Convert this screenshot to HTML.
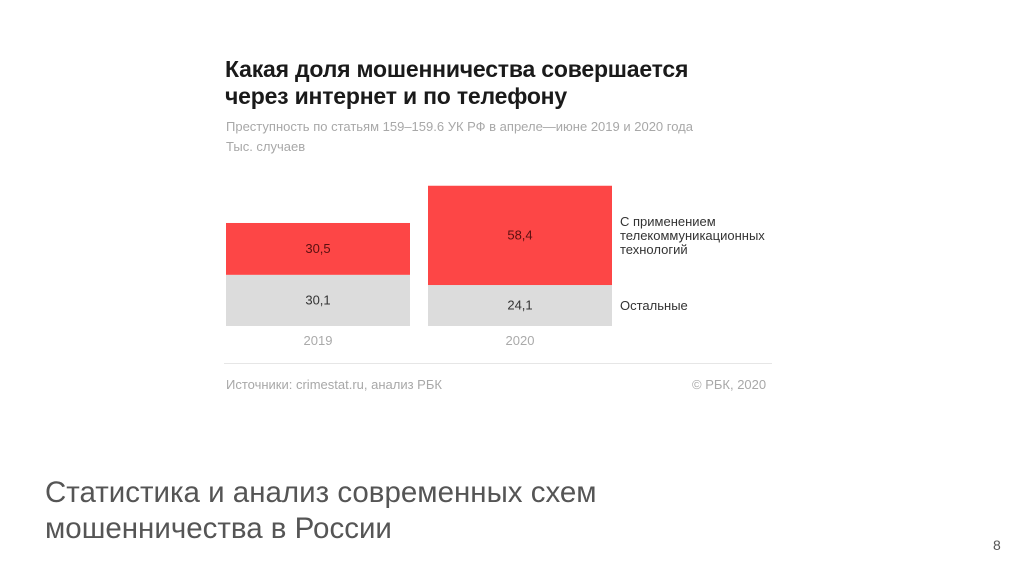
<!DOCTYPE html>
<html><head><meta charset="utf-8"><style>
body{margin:0;width:1024px;height:574px;background:#fff;position:relative;overflow:hidden;font-family:"Liberation Sans",sans-serif}
.t{position:absolute;white-space:nowrap}
</style></head><body>
<div class="t" style="left:225px;top:56px;font-size:23px;font-weight:bold;color:#1a1a1a;line-height:27px;letter-spacing:-0.2px">Какая доля мошенничества совершается<br>через интернет и по телефону</div>
<div class="t" style="left:226px;top:119px;font-size:13px;color:#a8a8a8">Преступность по статьям 159–159.6 УК РФ в апреле—июне 2019 и 2020 года</div>
<div class="t" style="left:226px;top:139px;font-size:13px;color:#a8a8a8">Тыс. случаев</div>
<svg id="c" width="1024" height="574" style="position:absolute;left:0;top:0"></svg>
<div class="t" style="left:620px;top:215px;font-size:13px;color:#333;line-height:14px">С применением<br>телекоммуникационных<br>технологий</div>
<div class="t" style="left:620px;top:298px;font-size:13px;color:#333">Остальные</div>
<div style="position:absolute;left:224px;top:363px;width:548px;height:1px;background:#e6e6e6"></div>
<div class="t" style="left:226px;top:377px;font-size:13px;color:#a8a8a8">Источники: crimestat.ru, анализ РБК</div>
<div class="t" style="left:692px;top:377px;font-size:13px;color:#a8a8a8">© РБК, 2020</div>
<div class="t" style="left:45px;top:475px;font-size:29.5px;color:#555;line-height:36px">Статистика и анализ современных схем<br>мошенничества в России</div>
<div class="t" style="left:993px;top:537px;font-size:14px;color:#555">8</div>
<script>
const years=["2019","2020"];
const telecom=[30.5,58.4];
const other=[30.1,24.1];
const svg=document.getElementById('c');
const NS='http://www.w3.org/2000/svg';
const base=326,k=1.70,x0=[226,428],bw=184;
function y(v){return base-v*k;}
function mk(t,a){const e=document.createElementNS(NS,t);for(const p in a)e.setAttribute(p,a[p]);svg.appendChild(e);return e;}
years.forEach((yr,i)=>{
  const g=mk('rect',{x:x0[i],y:y(other[i]),width:bw,height:base-y(other[i]),fill:'#dcdcdc'});
  
  
  const r=mk('rect',{x:x0[i],y:y(other[i]+telecom[i]),width:bw,height:telecom[i]*k,fill:'#fd4646'});
  
  
  const t1=mk('text',{x:x0[i]+bw/2,y:y(other[i]+telecom[i]/2)+4,'text-anchor':'middle','font-size':13,fill:'#5a1010','font-family':'Liberation Sans'});
  t1.textContent=String(telecom[i]).replace('.',',');
  
  
  const t2=mk('text',{x:x0[i]+bw/2,y:y(other[i]/2)+4,'text-anchor':'middle','font-size':13,fill:'#333','font-family':'Liberation Sans'});
  t2.textContent=String(other[i]).replace('.',',');
  
  
  const t3=mk('text',{x:x0[i]+bw/2,y:345,'text-anchor':'middle','font-size':13,fill:'#aaa','font-family':'Liberation Sans'});
  t3.textContent=yr;
  
  
});
</script>
</body></html>
